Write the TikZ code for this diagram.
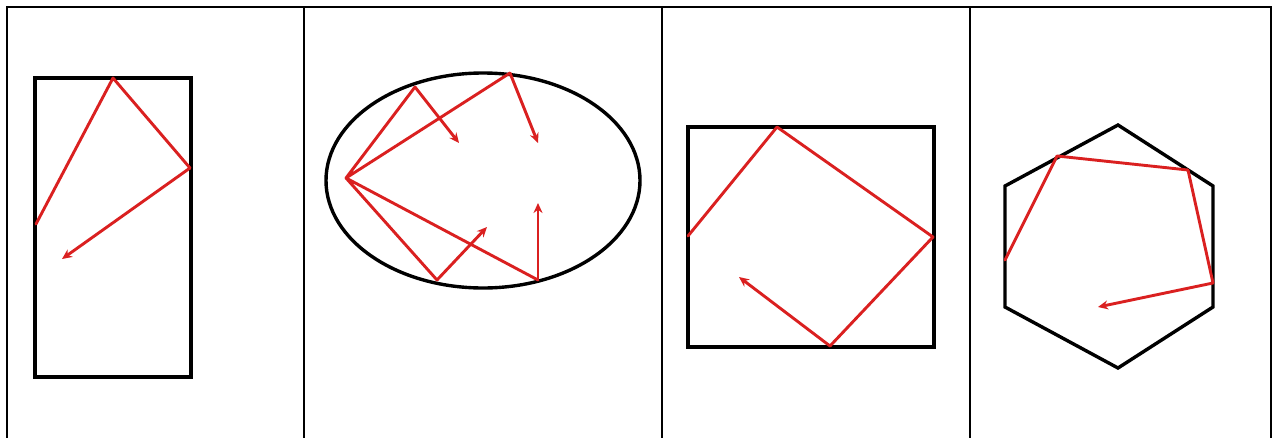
\documentclass[tikz,border=0pt]{standalone}
\usetikzlibrary{arrows.meta}
\definecolor{ray}{RGB}{218,32,32}
\tikzset{
  frame/.style={draw=black,line width=2pt},
  shapeline/.style={draw=black,line width=3.4pt,line join=miter},
  raypath/.style={draw=ray,line width=2.9pt,line join=round,line cap=round},
  rayarrow/.style={raypath,-{Stealth[length=10pt,width=9pt]}}
}
\begin{document}
\begin{tikzpicture}[x=1pt,y=-1pt]
\useasboundingbox (0,0) rectangle (1274,437);
% table frame
\draw[frame] (7,440) -- (7,7) -- (1271,7) -- (1271,440);
\draw[frame] (304,7) -- (304,440);
\draw[frame] (662,7) -- (662,440);
\draw[frame] (970,7) -- (970,440);
% panel 1
\draw[shapeline] (35,78) rectangle (191,377);
\coordinate (a1) at (36,224);
\coordinate (a2) at (113,78);
\coordinate (a3) at (190,168);
\coordinate (a4) at (62,259);
\draw[raypath] (a1) -- (a2) -- (a3);
\draw[rayarrow] (a3) -- (a4);
% panel 2
\draw[shapeline] (483,180.5) ellipse [x radius=157, y radius=107.5];
\coordinate (p) at (346,178);
\coordinate (b1) at (415,87);
\coordinate (b1e) at (459,143);
\coordinate (b2) at (510,73);
\coordinate (b2e) at (538,143);
\coordinate (b3) at (437,280);
\coordinate (b3e) at (487,227);
\coordinate (b4) at (538,280);
\coordinate (b4e) at (538,203);
\draw[raypath] (b1) -- (p) -- (b2);
\draw[raypath] (b3) -- (p) -- (b4);
\draw[rayarrow] (b1) -- (b1e);
\draw[rayarrow] (b2) -- (b2e);
\draw[rayarrow] (b3) -- (b3e);
\draw[rayarrow] (b4) -- (b4e);
% panel 3
\draw[shapeline] (688,127) rectangle (934,347);
\coordinate (c1) at (688,236);
\coordinate (c2) at (777,127);
\coordinate (c3) at (933,237);
\coordinate (c4) at (830,346);
\coordinate (c5) at (739,277);
\draw[raypath] (c1) -- (c2) -- (c3) -- (c4);
\draw[rayarrow] (c4) -- (c5);
% panel 4
\draw[shapeline] (1118,125) -- (1213,186) -- (1213,307) -- (1118,368) -- (1005,307) -- (1005,186) -- cycle;
\coordinate (d1) at (1005,260);
\coordinate (d2) at (1057,156);
\coordinate (d3) at (1188,170);
\coordinate (d4) at (1213,283);
\coordinate (d5) at (1098,307);
\draw[raypath] (d1) -- (d2) -- (d3) -- (d4);
\draw[rayarrow] (d4) -- (d5);
\end{tikzpicture}
\end{document}
